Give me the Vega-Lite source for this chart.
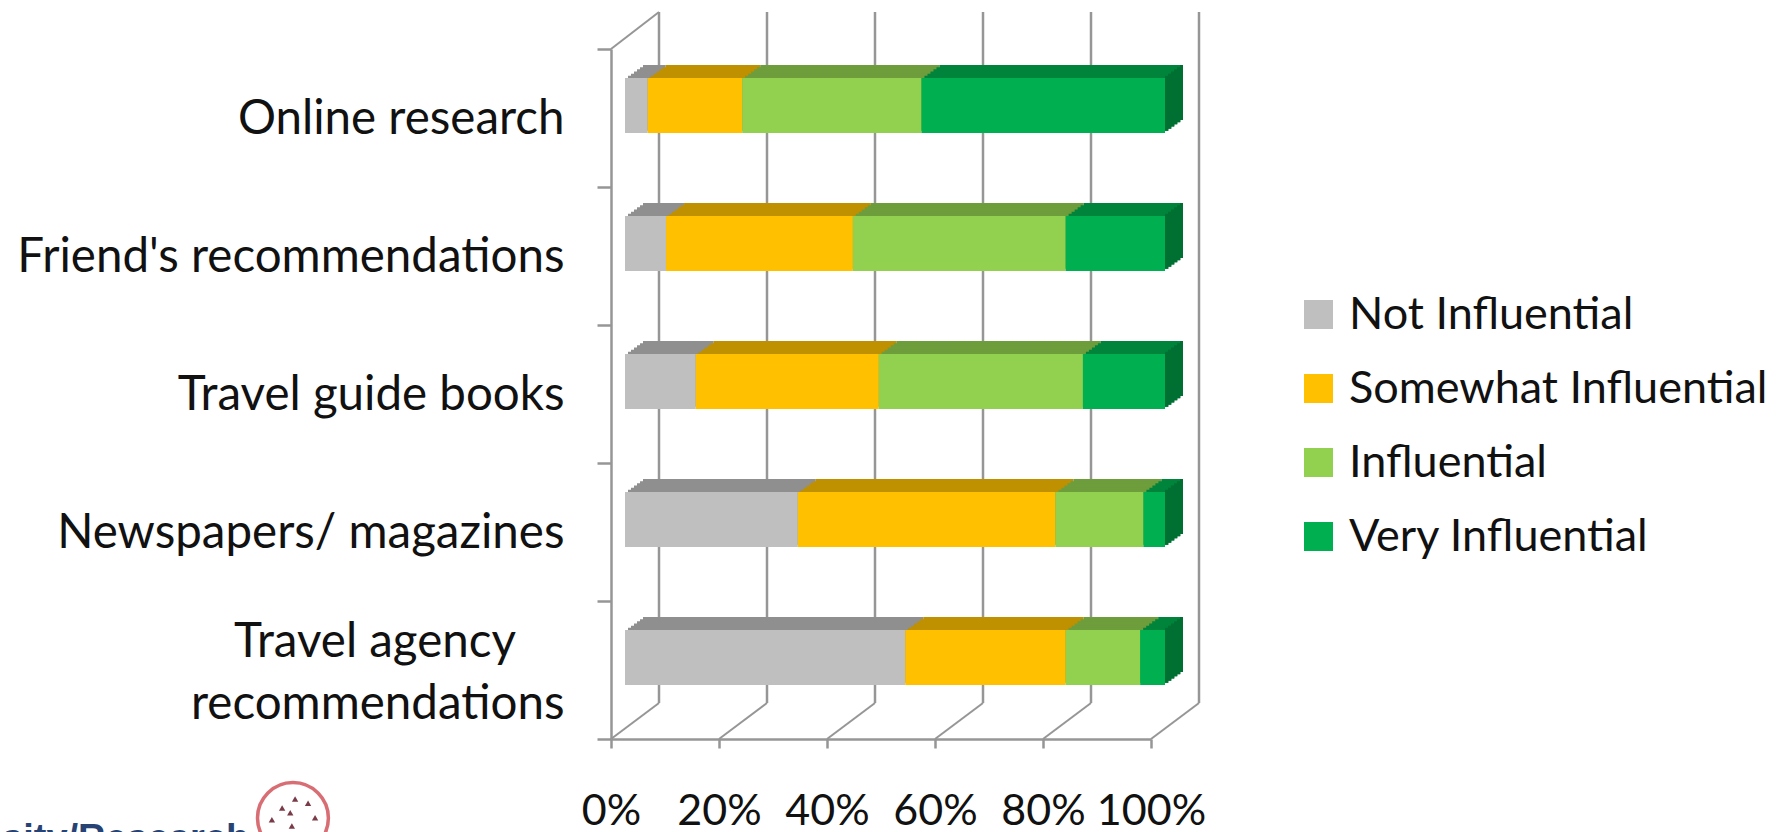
{"$schema":"https://vega.github.io/schema/vega-lite/v6.json","width":540,"height":690,"autosize":"none","padding":{"left":611,"top":49,"right":636,"bottom":93},"background":"white","config":{"view":{"stroke":null},"font":"Lato"},
"datasets":{"bars":[
{"source":"Online research","level":"Not Influential","rank":1,"value":4.2},{"source":"Online research","level":"Somewhat Influential","rank":2,"value":17.5},{"source":"Online research","level":"Influential","rank":3,"value":33.2},{"source":"Online research","level":"Very Influential","rank":4,"value":45.1},
{"source":"Friend's recommendations","level":"Not Influential","rank":1,"value":7.6},{"source":"Friend's recommendations","level":"Somewhat Influential","rank":2,"value":34.6},{"source":"Friend's recommendations","level":"Influential","rank":3,"value":39.4},{"source":"Friend's recommendations","level":"Very Influential","rank":4,"value":18.4},
{"source":"Travel guide books","level":"Not Influential","rank":1,"value":13.1},{"source":"Travel guide books","level":"Somewhat Influential","rank":2,"value":33.9},{"source":"Travel guide books","level":"Influential","rank":3,"value":37.8},{"source":"Travel guide books","level":"Very Influential","rank":4,"value":15.2},
{"source":"Newspapers/ magazines","level":"Not Influential","rank":1,"value":32},{"source":"Newspapers/ magazines","level":"Somewhat Influential","rank":2,"value":47.7},{"source":"Newspapers/ magazines","level":"Influential","rank":3,"value":16.3},{"source":"Newspapers/ magazines","level":"Very Influential","rank":4,"value":4},
{"source":"Travel agency recommendations","level":"Not Influential","rank":1,"value":51.9},{"source":"Travel agency recommendations","level":"Somewhat Influential","rank":2,"value":29.7},{"source":"Travel agency recommendations","level":"Influential","rank":3,"value":13.8},{"source":"Travel agency recommendations","level":"Very Influential","rank":4,"value":4.6}],
"grid":[{"pct":0},{"pct":20},{"pct":40},{"pct":60},{"pct":80},{"pct":100}],
"logoText":[{"px":-67,"py":-0.162,"t":"sity/Research"}],
"logoRing":[{"px":-58.9,"py":-0.1145}],
"logoStars":[{"px":-58.5,"py":-0.087},{"px":-56.1,"py":-0.093},{"px":-60.9,"py":-0.1},{"px":-59.4,"py":-0.107},{"px":-54.8,"py":-0.114},{"px":-62.8,"py":-0.117},{"px":-59.1,"py":-0.126}]},
"layer":[
{"layer":[
{"data":{"name":"grid"},"mark":{"type":"rule","color":"#969696","strokeWidth":2.5,"xOffset":48,"x2Offset":48,"yOffset":-36,"y2Offset":-37},"encoding":{"x":{"field":"pct","type":"quantitative","scale":{"domain":[0,100],"nice":false},"title":null,"axis":{"values":[0,20,40,60,80,100],"labelExpr":"datum.value + '%'","grid":false,"domainColor":"#969696","domainWidth":2.5,"tickColor":"#969696","tickWidth":2.5,"tickSize":9,"labelFontSize":43,"labelColor":"#111111","labelPadding":42,"labelOverlap":false,"labelFlush":false}},"y":{"datum":0,"type":"quantitative","scale":{"domain":[0,1]},"axis":null},"y2":{"datum":1}}},
{"data":{"name":"grid"},"mark":{"type":"rule","color":"#969696","strokeWidth":2,"x2Offset":48,"y2Offset":-36},"encoding":{"x":{"field":"pct","type":"quantitative","title":null},"x2":{"field":"pct"},"y":{"datum":0,"type":"quantitative","axis":null},"y2":{"datum":0}}},
{"data":{"values":[{"pct":0}]},"mark":{"type":"rule","color":"#969696","strokeWidth":2,"x2Offset":48,"y2Offset":-37},"encoding":{"x":{"field":"pct","type":"quantitative","title":null},"x2":{"field":"pct"},"y":{"datum":1,"type":"quantitative","axis":null},"y2":{"datum":1}}},
{"data":{"name":"logoText"},"mark":{"type":"text","font":"Liberation Sans","fontWeight":"bold","fontSize":38,"color":"#0f2f66","align":"right","baseline":"alphabetic","opacity":0.9},"encoding":{"x":{"field":"px","type":"quantitative","title":null},"y":{"field":"py","type":"quantitative","axis":null},"text":{"field":"t"}}},
{"data":{"name":"logoRing"},"mark":{"type":"point","shape":"circle","size":5027,"filled":false,"color":"#c8323a","strokeWidth":3.5},"encoding":{"x":{"field":"px","type":"quantitative","title":null},"y":{"field":"py","type":"quantitative","axis":null}}},
{"data":{"name":"logoStars"},"mark":{"type":"point","shape":"triangle-up","size":40,"filled":true,"color":"#7a3a48","opacity":1},"encoding":{"x":{"field":"px","type":"quantitative","title":null},"y":{"field":"py","type":"quantitative","axis":null}}}
]},
{"data":{"name":"bars"},"encoding":{"y":{"field":"source","type":"nominal","sort":["Online research","Friend's recommendations","Travel guide books","Newspapers/ magazines","Travel agency recommendations"],"title":null,"scale":{"paddingInner":0,"paddingOuter":0},"axis":{"orient":"left","tickBand":"extent","grid":false,"domainColor":"#969696","domainWidth":2.5,"tickColor":"#969696","tickWidth":2.5,"tickSize":14,"labelFontSize":47.5,"labelColor":"#111111","labelPadding":33,"labelLimit":700,"labelOverlap":false,"labelOffset":{"condition":{"test":"datum.label == 'Travel agency recommendations'","value":34},"value":1.5},"labelExpr":"datum.label == 'Travel agency recommendations' ? 'recommendations' : datum.label"}}},
"layer":[
{"encoding":{"x":{"field":"value","type":"quantitative","stack":true,"title":null},"fill":{"field":"level","type":"nominal","legend":null,"scale":{"domain":["Very Influential","Influential","Somewhat Influential","Not Influential"],"range":["#00843c","#6e9d3c","#bf9000","#8f8f8f"]}},"order":{"field":"rank"}},
"layer":[
{"mark":{"type":"bar","size":55,"xOffset":32,"x2Offset":32,"yOffset":-25.5}},
{"mark":{"type":"bar","size":55,"xOffset":29,"x2Offset":29,"yOffset":-23.3}},
{"mark":{"type":"bar","size":55,"xOffset":26,"x2Offset":26,"yOffset":-21.2}},
{"mark":{"type":"bar","size":55,"xOffset":23,"x2Offset":23,"yOffset":-19}},
{"mark":{"type":"bar","size":55,"xOffset":20,"x2Offset":20,"yOffset":-16.8}},
{"mark":{"type":"bar","size":55,"xOffset":17,"x2Offset":17,"yOffset":-14.7}}
]},
{"transform":[{"filter":"datum.level == 'Very Influential'"}],"encoding":{"x":{"datum":100,"type":"quantitative","title":null},"x2":{"datum":100}},
"layer":[
{"mark":{"type":"bar","size":55,"color":"#006f32","xOffset":14,"x2Offset":17.5,"yOffset":-14.7}},
{"mark":{"type":"bar","size":55,"color":"#006f32","xOffset":17,"x2Offset":20.5,"yOffset":-16.8}},
{"mark":{"type":"bar","size":55,"color":"#006f32","xOffset":20,"x2Offset":23.5,"yOffset":-19}},
{"mark":{"type":"bar","size":55,"color":"#006f32","xOffset":23,"x2Offset":26.5,"yOffset":-21.2}},
{"mark":{"type":"bar","size":55,"color":"#006f32","xOffset":26,"x2Offset":29.5,"yOffset":-23.3}},
{"mark":{"type":"bar","size":55,"color":"#006f32","xOffset":29,"x2Offset":32,"yOffset":-25.5}}
]},
{"mark":{"type":"bar","size":55,"xOffset":14,"x2Offset":14,"yOffset":-12.5},"encoding":{"x":{"field":"value","type":"quantitative","stack":true,"title":null},"color":{"field":"level","type":"nominal","sort":["Not Influential","Somewhat Influential","Influential","Very Influential"],"scale":{"domain":["Not Influential","Somewhat Influential","Influential","Very Influential"],"range":["#bfbfbf","#ffc000","#92d050","#00b050"]},"legend":{"title":null,"orient":"none","legendX":685,"legendY":243,"symbolType":"square","symbolSize":841,"symbolStrokeWidth":0,"labelFontSize":45,"labelColor":"#111111","rowPadding":28,"labelOffset":8,"labelLimit":700}},"order":{"field":"rank"}}},
{"data":{"values":[{"source":"Travel agency recommendations","px":-43.7,"line":"Travel agency"}]},"mark":{"type":"text","fontSize":47.5,"color":"#111111","align":"center","baseline":"middle","yOffset":-27},"encoding":{"x":{"field":"px","type":"quantitative","title":null},"text":{"field":"line"}}}
]}
],"resolve":{"scale":{"y":"independent"}}}
